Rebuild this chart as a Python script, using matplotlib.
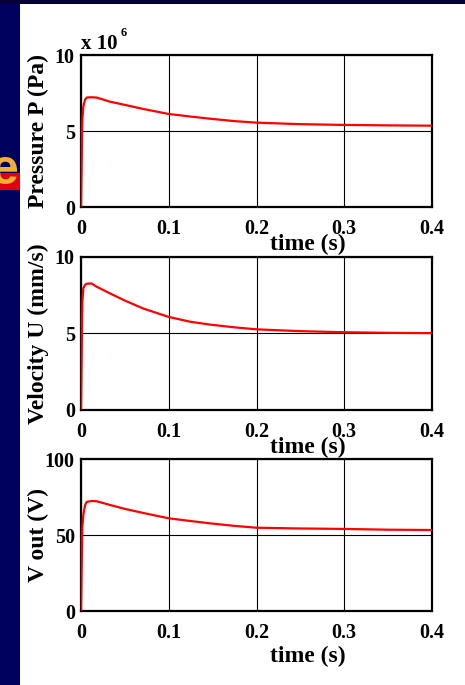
import matplotlib
matplotlib.use('Agg')
import matplotlib.pyplot as plt
from matplotlib.patches import Rectangle

# dados
tempo = [0, 0.0015, 0.0026, 0.0046, 0.0065, 0.012, 0.018, 0.033, 0.05, 0.071,
         0.1, 0.125, 0.147, 0.175, 0.2, 0.25, 0.3, 0.35, 0.4]
pressao = [0, 5.7e6, 6.6e6, 7.05e6, 7.2e6, 7.22e6, 7.2e6, 6.93e6, 6.72e6, 6.45e6,
           6.12e6, 5.95e6, 5.81e6, 5.65e6, 5.55e6, 5.45e6, 5.4e6, 5.37e6, 5.35e6]
velocidade = [0, 7.0, 7.95, 8.17, 8.25, 8.27, 8.05, 7.62, 7.15, 6.63,
              6.08, 5.76, 5.58, 5.4, 5.27, 5.15, 5.08, 5.04, 5.02]
vout = [0, 55, 63, 69.5, 71.8, 72.4, 72.2, 69.8, 67.2, 64.5,
        61, 59.2, 57.7, 56, 54.8, 54.3, 54, 53.5, 53.3]

xticks = [0, 0.1, 0.2, 0.3, 0.4]
xticklabels = ['0', '0.1', '0.2', '0.3', '0.4']

paineis = [
    (pressao, 'Pressure P (Pa)', [0, 5e6, 1e7], ['0', '5', '10'], 0.6978, 0.2219, -0.283),
    (velocidade, 'Velocity U (mm/s)', [0, 5, 10], ['0', '5', '10'], 0.4015, 0.2234, -0.281),
    (vout, 'V out (V)', [0, 50, 100], ['0', '50', '100'], 0.108, 0.2219, -0.336),
]

plt.rcParams['font.family'] = ['Liberation Serif', 'DejaVu Serif']
plt.rcParams['font.weight'] = 'bold'
plt.rcParams['axes.labelweight'] = 'bold'

fig = plt.figure(figsize=(4.65, 6.85), dpi=100)
fig.patch.set_facecolor('white')

# faixas azul escuro (fundo do slide)
fig.add_artist(Rectangle((0, 0), 20 / 465, 1, transform=fig.transFigure,
                         facecolor='#00005e', edgecolor='none', zorder=0))
fig.add_artist(Rectangle((0, 1 - 4 / 685), 1, 4 / 685, transform=fig.transFigure,
                         facecolor='#020238', edgecolor='none', zorder=0))
fig.add_artist(Rectangle((0, 1 - 190 / 685), 20 / 465, 17 / 685, transform=fig.transFigure,
                         facecolor='#e00010', edgecolor='none', zorder=1))
fig.text(5 / 465, 1 - 171 / 685, 'e', family='Liberation Sans', weight='bold',
         size=36, color='#f5b030', ha='center', va='center', zorder=2)

for valores, rotulo, yticks, ylabels, base, altura, ypos_xlabel in paineis:
    ax = fig.add_axes([81 / 465, base, 351 / 465, altura])
    ax.plot(tempo, valores, color='red', linewidth=1.6, zorder=3)
    ax.set_xlim(0, 0.4)
    ax.set_ylim(yticks[0], yticks[-1])
    ax.set_xticks(xticks)
    ax.set_xticklabels(xticklabels)
    ax.set_yticks(yticks)
    ax.set_yticklabels(ylabels)
    ax.tick_params(length=0, labelsize=14.5)
    ax.tick_params(axis='x', pad=8.5)
    ax.tick_params(axis='y', pad=4.5)
    ax.grid(True, color='black', linewidth=0.8)
    for s in ax.spines.values():
        s.set_linewidth(1.6)
    ax.set_ylabel(rotulo, fontsize=17, fontweight='bold', va='center')
    ax.yaxis.set_label_coords(-0.122, 0.5)
    ax.set_xlabel('time (s)', fontsize=17, fontweight='bold', va='baseline')
    ax.xaxis.set_label_coords(0.647, ypos_xlabel)
    if rotulo.startswith('Pressure'):
        ax.text(0, 1.039, 'x 10', transform=ax.transAxes, fontsize=15,
                fontweight='bold', ha='left', va='baseline')
        ax.text(0.113, 1.125, '6', transform=ax.transAxes, fontsize=9,
                fontweight='bold', ha='left', va='baseline')

plt.savefig('out.png', dpi=100)
